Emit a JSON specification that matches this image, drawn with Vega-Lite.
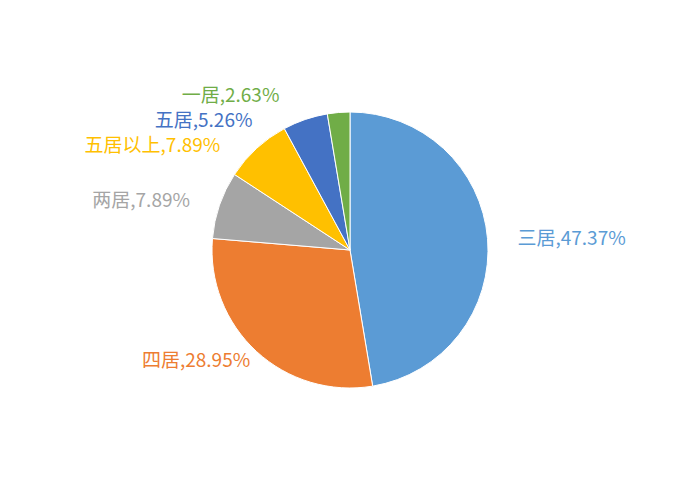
{
  "$schema": "https://vega.github.io/schema/vega-lite/v6.json",
  "width": 700,
  "height": 500,
  "autosize": {"type": "fit", "contains": "padding"},
  "background": "white",
  "view": {"stroke": null},
  "data": {"values": [
    {"category": "三居", "value": 47.37},
    {"category": "四居", "value": 28.95},
    {"category": "两居", "value": 7.89},
    {"category": "五居以上", "value": 7.89},
    {"category": "五居", "value": 5.26},
    {"category": "一居", "value": 2.63}
  ]},
  "transform": [
    {"window": [{"op": "sum", "field": "value", "as": "cum"}], "frame": [null, 0]},
    {"calculate": "datum.cum - datum.value", "as": "start"},
    {"calculate": "datum.cum - datum.value / 2", "as": "mid"},
    {"calculate": "datum.category + ',' + format(datum.value, '.2f') + '%'", "as": "label"}
  ],
  "encoding": {
    "color": {
      "field": "category", "type": "nominal",
      "scale": {
        "domain": ["三居", "四居", "两居", "五居以上", "五居", "一居"],
        "range": ["#5B9BD5", "#ED7D31", "#A5A5A5", "#FFC000", "#4472C4", "#70AD47"]
      },
      "legend": null
    }
  },
  "layer": [
    {
      "mark": {"type": "arc", "radius": 138, "stroke": "white", "strokeWidth": 1},
      "encoding": {
        "theta": {"field": "start", "type": "quantitative", "scale": {"domain": [0, 99.99]}},
        "theta2": {"field": "cum"}
      }
    },
    {
      "transform": [{"filter": "datum.category == '三居'"}],
      "mark": {"type": "text", "radius": 165, "align": "left", "baseline": "middle", "dx": 3, "dy": 3, "font": "Noto Sans CJK SC", "fontSize": 19},
      "encoding": {"theta": {"field": "mid", "type": "quantitative"}, "text": {"field": "label"}}
    },
    {
      "transform": [{"filter": "datum.category == '四居'"}],
      "mark": {"type": "text", "radius": 165, "align": "right", "baseline": "middle", "dx": 12, "dy": -10, "font": "Noto Sans CJK SC", "fontSize": 19},
      "encoding": {"theta": {"field": "mid", "type": "quantitative"}, "text": {"field": "label"}}
    },
    {
      "transform": [{"filter": "datum.category == '两居'"}],
      "mark": {"type": "text", "radius": 165, "align": "right", "baseline": "middle", "dx": -4, "dy": 5, "font": "Noto Sans CJK SC", "fontSize": 19},
      "encoding": {"theta": {"field": "mid", "type": "quantitative"}, "text": {"field": "label"}}
    },
    {
      "transform": [{"filter": "datum.category == '五居以上'"}],
      "mark": {"type": "text", "radius": 165, "align": "right", "baseline": "middle", "dx": -18, "dy": 17, "font": "Noto Sans CJK SC", "fontSize": 19},
      "encoding": {"theta": {"field": "mid", "type": "quantitative"}, "text": {"field": "label"}}
    },
    {
      "transform": [{"filter": "datum.category == '五居'"}],
      "mark": {"type": "text", "radius": 165, "align": "right", "baseline": "middle", "dx": -44, "dy": 27, "font": "Noto Sans CJK SC", "fontSize": 19},
      "encoding": {"theta": {"field": "mid", "type": "quantitative"}, "text": {"field": "label"}}
    },
    {
      "transform": [{"filter": "datum.category == '一居'"}],
      "mark": {"type": "text", "radius": 165, "align": "right", "baseline": "middle", "dx": -57, "dy": 10, "font": "Noto Sans CJK SC", "fontSize": 19},
      "encoding": {"theta": {"field": "mid", "type": "quantitative"}, "text": {"field": "label"}}
    }
  ]
}
